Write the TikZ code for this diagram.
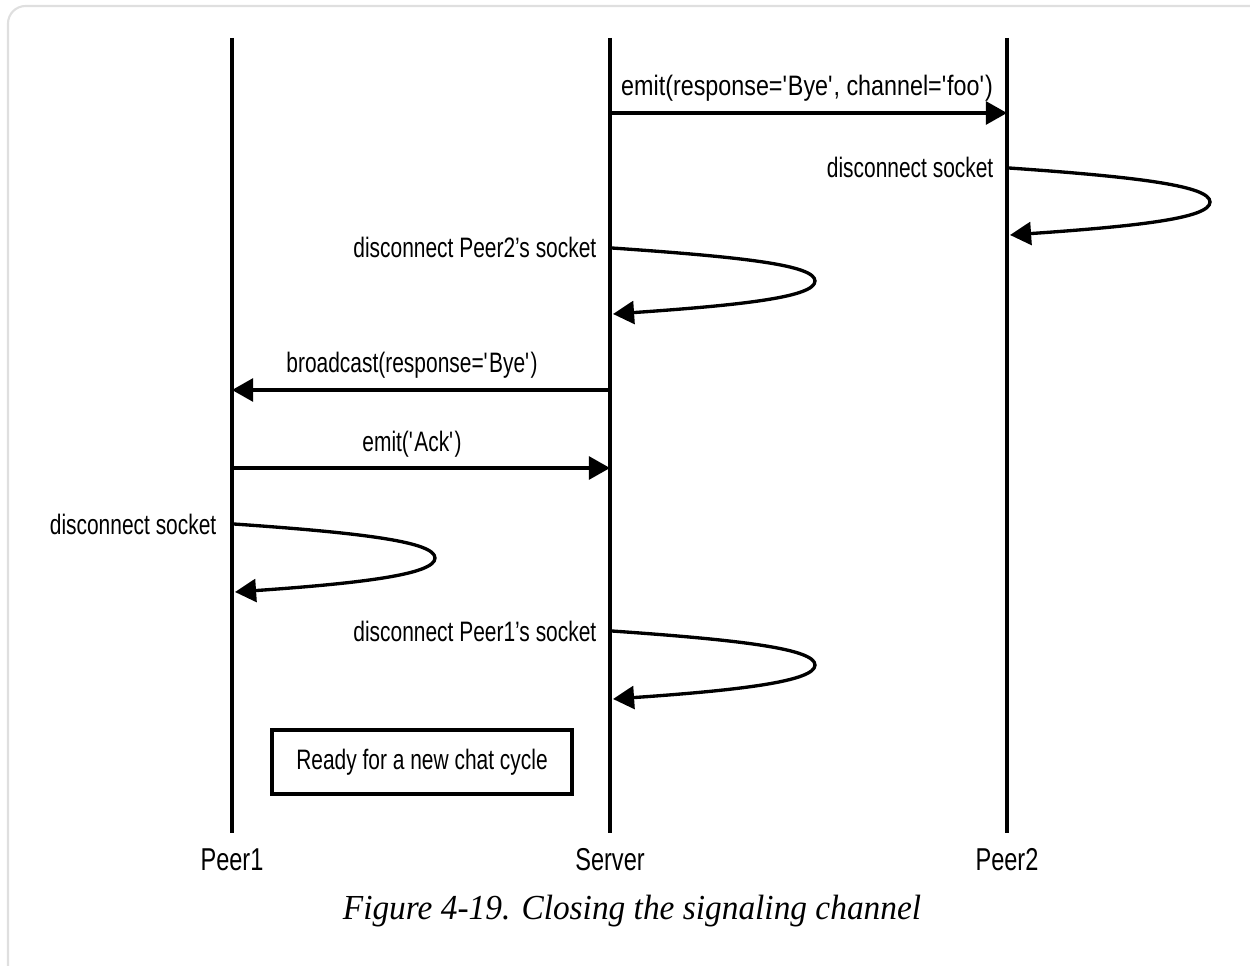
\documentclass[tikz,border=0pt]{standalone}
\usepackage{fontspec}
\setmainfont{Liberation Sans}[FakeStretch=0.745]
\newfontfamily\capfont{Liberation Serif}[FakeStretch=0.95]
\usetikzlibrary{arrows.meta}
\newcommand{\sq}{\textquotesingle}

\begin{document}
\begin{tikzpicture}[x=0.02cm,y=-0.02cm,line width=1.9pt,
  msg/.style={-{Triangle[length=12pt,width=13pt]}},
  lbl/.style={font=\fontsize{16}{18}\selectfont,inner sep=0pt},
  actor/.style={font=\fontsize{18}{20}\selectfont,inner sep=0pt},
  note/.style={draw,line width=2.1pt,minimum width=300*0.02cm,minimum height=64*0.02cm,font=\fontsize{16}{18}\selectfont}]
\useasboundingbox (0,0) rectangle (1250,966);
\draw[gray!25,line width=1.2pt,rounded corners=10pt] (8,6) rectangle (1280,1000);

% lifelines
\node[actor] (peer1) at (232,860) {Peer1};
\node[actor] (server) at (610,860) {Server};
\node[actor] (peer2) at (1007,860) {Peer2};
\coordinate (p1top) at (232,38);
\coordinate (stop) at (610,38);
\coordinate (p2top) at (1007,38);
\draw (p1top) -- (232,833);
\draw (stop) -- (610,833);
\draw (p2top) -- (1007,833);

% messages
\coordinate (s1) at (610,113);
\coordinate (q1) at (1007,113);
\draw[msg] (s1) -- (q1);
\node[lbl,anchor=base] (m1) at (807,96) {\addfontfeature{FakeStretch=0.83}emit(response=\sq Bye\sq, channel=\sq foo\sq)};

\coordinate (s4) at (610,390);
\coordinate (q4) at (232,390);
\draw[msg] (s4) -- (q4);
\node[lbl,anchor=base] (m4) at (412,372) {broadcast(response=\sq Bye\sq)};

\coordinate (s5) at (232,468);
\coordinate (q5) at (610,468);
\draw[msg] (s5) -- (q5);
\node[lbl,anchor=base] (m5) at (412,451) {emit(\sq Ack\sq)};

% self loops
\coordinate (a2) at (1009,168);
\coordinate (t2) at (1210,202);
\coordinate (b2) at (1010,235);
\draw[msg] (a2) .. controls +(130,9) and +(0,-16) .. (t2) .. controls +(0,16) and +(130,-9) .. (b2);
\node[lbl,anchor=base east] (m2) at (995,178) {disconnect socket};

\coordinate (a3) at (612,248);
\coordinate (t3) at (815,281);
\coordinate (b3) at (613,314);
\draw[msg] (a3) .. controls +(130,9) and +(0,-16) .. (t3) .. controls +(0,16) and +(130,-9) .. (b3);
\node[lbl,anchor=base east] (m3) at (598,257) {disconnect Peer2’s socket};

\coordinate (a6) at (234,524);
\coordinate (t6) at (435,558);
\coordinate (b6) at (235,592);
\draw[msg] (a6) .. controls +(130,9) and +(0,-16) .. (t6) .. controls +(0,16) and +(130,-9) .. (b6);
\node[lbl,anchor=base east] (m6) at (218,534) {disconnect socket};

\coordinate (a7) at (612,631);
\coordinate (t7) at (815,665);
\coordinate (b7) at (613,699);
\draw[msg] (a7) .. controls +(130,9) and +(0,-16) .. (t7) .. controls +(0,16) and +(130,-9) .. (b7);
\node[lbl,anchor=base east] (m7) at (598,641) {disconnect Peer1’s socket};

\node[note] (ready) at (422,762) {Ready for a new chat cycle};

\node[font=\capfont\itshape\fontsize{20}{23}\selectfont] (caption) at (632,911) {Figure 4-19. Closing the signaling channel};
\end{tikzpicture}
\end{document}
